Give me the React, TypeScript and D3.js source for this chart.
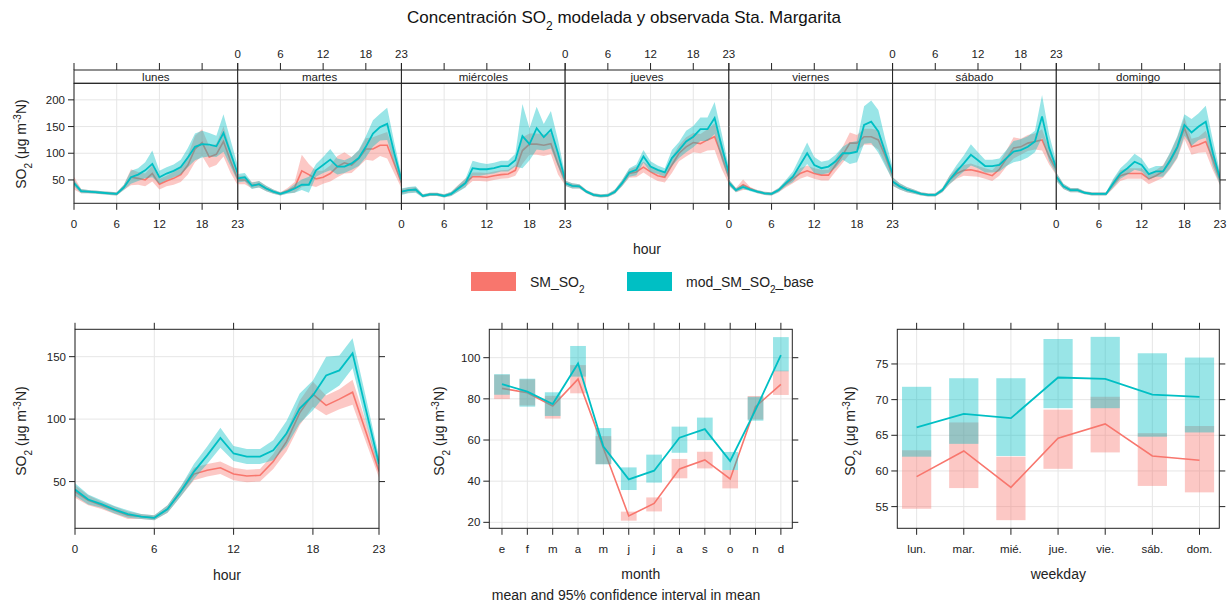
import React from "react";
import * as d3 from "d3";

const RED = "#F8766D";
const TEAL = "#00BFC4";
const FONT = "'Liberation Sans', Arial, Helvetica, sans-serif";

// ---------- data ----------
const hours = [0, 1, 2, 3, 4, 5, 6, 7, 8, 9, 10, 11, 12, 13, 14, 15, 16, 17, 18, 19, 20, 21, 22, 23];
const hourTicks = [0, 6, 12, 18, 23];
const dayNames = ["lunes", "martes", "miércoles", "jueves", "viernes", "sábado", "domingo"];

const modLunes = [44, 29, 28, 27, 26, 25, 24, 36, 55, 60, 68, 80, 55, 62, 67, 74, 92, 112, 117, 116, 113, 138, 100, 62];
const obsLunes = [44, 29, 28, 27, 26, 25, 24, 36, 55, 53, 50, 62, 42, 48, 53, 60, 78, 108, 120, 93, 98, 122, 85, 52];
const modLunesCI = [6, 4, 3, 3, 3, 3, 3, 5, 12, 12, 15, 25, 12, 12, 12, 14, 18, 25, 25, 22, 20, 35, 25, 15];
const obsLunesCI = [12, 4, 3, 3, 3, 3, 3, 5, 15, 12, 12, 15, 10, 10, 12, 14, 18, 25, 25, 20, 20, 28, 22, 12];

const modMartes = [53, 55, 39, 42, 34, 28, 24, 28, 34, 41, 41, 68, 78, 88, 75, 75, 81, 91, 112, 137, 149, 155, 100, 50];
const obsMartes = [50, 50, 40, 42, 34, 28, 24, 30, 36, 67, 60, 52, 55, 62, 75, 82, 78, 90, 108, 108, 115, 115, 80, 45];
const modMartesCI = [8, 8, 6, 6, 5, 4, 3, 4, 8, 10, 15, 12, 15, 20, 15, 12, 12, 15, 20, 25, 25, 30, 20, 10];
const obsMartesCI = [8, 8, 6, 6, 5, 4, 3, 5, 10, 30, 20, 15, 12, 15, 20, 20, 15, 15, 20, 22, 20, 25, 18, 10];

const modMiercoles = [28, 31, 32, 20, 23, 23, 20, 24, 34, 44, 72, 70, 70, 72, 76, 76, 87, 132, 117, 147, 130, 144, 100, 50];
const obsMiercoles = [28, 31, 32, 20, 23, 23, 20, 24, 35, 45, 56, 56, 55, 58, 60, 61, 68, 105, 117, 117, 115, 118, 80, 48];
const modMiercolesCI = [6, 6, 6, 3, 3, 3, 3, 4, 6, 8, 14, 12, 10, 10, 10, 10, 12, 60, 30, 40, 25, 35, 25, 10];
const obsMiercolesCI = [5, 5, 5, 3, 3, 3, 3, 4, 6, 8, 8, 8, 8, 8, 8, 8, 10, 25, 20, 20, 20, 20, 20, 8];

const modJueves = [44, 39, 38, 28, 22, 20, 21, 28, 44, 64, 69, 94, 75, 69, 64, 91, 106, 122, 131, 145, 145, 166, 112, 62];
const obsJueves = [44, 39, 38, 28, 22, 20, 21, 28, 44, 62, 65, 74, 65, 58, 55, 78, 100, 112, 120, 118, 125, 131, 95, 55];
const modJuevesCI = [5, 5, 4, 3, 3, 3, 3, 4, 6, 8, 10, 12, 10, 8, 8, 15, 15, 20, 20, 22, 22, 30, 25, 12];
const obsJuevesCI = [5, 5, 4, 3, 3, 3, 3, 4, 6, 8, 10, 10, 10, 10, 10, 15, 15, 18, 18, 18, 20, 25, 25, 12];

const modViernes = [45, 31, 37, 32, 28, 25, 24, 31, 44, 56, 78, 100, 78, 72, 75, 85, 100, 100, 103, 153, 159, 141, 100, 62];
const obsViernes = [45, 31, 41, 34, 28, 25, 24, 31, 42, 52, 62, 67, 62, 59, 59, 78, 97, 119, 119, 131, 131, 125, 94, 58];
const modViernesCI = [6, 4, 4, 3, 3, 3, 3, 4, 6, 10, 15, 20, 15, 12, 12, 12, 12, 20, 20, 35, 40, 40, 25, 12];
const obsViernesCI = [6, 4, 10, 3, 3, 3, 3, 4, 6, 8, 10, 10, 10, 10, 10, 12, 15, 20, 15, 15, 15, 18, 15, 10];

const modSabado = [47, 38, 32, 28, 24, 22, 22, 31, 50, 66, 81, 97, 87, 76, 76, 78, 91, 103, 106, 112, 122, 169, 110, 72];
const obsSabado = [47, 38, 32, 28, 24, 22, 22, 31, 50, 62, 68, 69, 66, 62, 58, 70, 90, 110, 112, 119, 122, 125, 94, 69];
const modSabadoCI = [8, 6, 5, 4, 3, 3, 3, 4, 8, 12, 15, 20, 15, 12, 12, 12, 15, 20, 20, 20, 20, 40, 25, 12];
const obsSabadoCI = [8, 6, 5, 4, 3, 3, 3, 4, 8, 10, 10, 12, 10, 10, 10, 12, 15, 20, 15, 15, 15, 20, 15, 10];

const modDomingo = [56, 38, 31, 31, 26, 24, 24, 24, 44, 62, 72, 84, 78, 61, 66, 66, 87, 112, 153, 139, 150, 159, 100, 53];
const obsDomingo = [56, 38, 31, 31, 26, 24, 24, 24, 42, 58, 62, 62, 62, 52, 58, 66, 85, 110, 147, 112, 116, 122, 88, 50];
const modDomingoCI = [8, 5, 4, 4, 3, 3, 3, 3, 8, 10, 12, 15, 12, 10, 10, 10, 15, 20, 20, 25, 25, 30, 25, 12];
const obsDomingoCI = [8, 5, 4, 4, 3, 3, 3, 3, 8, 10, 10, 10, 10, 10, 10, 12, 15, 20, 20, 15, 15, 20, 20, 10];

const hourMod = [43.6, 35.6, 32, 27.5, 24, 22, 21, 28, 42, 58, 71, 85, 72.5, 70, 70, 75, 88.5, 108.5, 119, 135, 139, 152.7, 108, 64];
const hourObs = [42, 35, 31, 27, 23, 22, 21, 28, 42, 56, 59, 61, 56, 54.5, 55, 66, 82, 105, 120, 111, 116, 121.5, 90, 58];
const hourModCI = [5, 4, 3, 3, 3, 2, 2, 3, 4, 6, 7, 8, 6, 6, 6, 8, 10, 12, 12, 15, 12, 12, 10, 6];
const hourObsCI = [5, 4, 3, 3, 3, 2, 2, 3, 4, 5, 5, 5, 5, 5, 5, 6, 8, 10, 10, 8, 8, 10, 8, 5];

const monthLabels = ["e", "f", "m", "a", "m", "j", "j", "a", "s", "o", "n", "d"];
const monthMod = [87.2, 83.5, 77.5, 97.2, 56.8, 40.9, 45.1, 61.1, 65.3, 49.8, 74.6, 101.3];
const monthModLo = [82, 76.2, 71.7, 90.8, 48.2, 35.7, 39.3, 53.8, 60, 45.4, 69.4, 93.4];
const monthModHi = [92, 89.8, 83.2, 105.7, 65.8, 46.7, 52.9, 66.5, 70.9, 54.2, 81, 110];
const monthObs = [85.1, 83, 76.5, 89.6, 56, 23.1, 29.2, 45.9, 50.3, 41.1, 76.2, 87];
const monthObsLo = [79.9, 76.8, 70.4, 82.7, 48.3, 20.8, 25.3, 41.4, 46.2, 36.5, 70, 81.9];
const monthObsHi = [91.7, 89.5, 81.5, 96.4, 61.9, 25.2, 32.1, 50.8, 54.3, 45.4, 81.4, 93.7];

const wdLabels = ["lun.", "mar.", "mié.", "jue.", "vie.", "sáb.", "dom."];
const wdMod = [66.1, 68, 67.4, 73.1, 72.9, 70.7, 70.4];
const wdModLo = [62, 63.8, 62.1, 68.8, 68.8, 64.8, 65.4];
const wdModHi = [71.8, 73, 73, 78.5, 78.8, 76.5, 75.9];
const wdObs = [59.2, 62.8, 57.7, 64.6, 66.6, 62.1, 61.5];
const wdObsLo = [54.7, 57.6, 53.1, 60.3, 62.6, 57.9, 57];
const wdObsHi = [62.9, 66.8, 62, 68.6, 70.4, 65.3, 66.3];

const topY = [50, 100, 150, 200];
const hourY = [50, 100, 150];
const monthY = [20, 40, 60, 80, 100];
const wdY = [55, 60, 65, 70, 75];

const dayMod = [modLunes, modMartes, modMiercoles, modJueves, modViernes, modSabado, modDomingo];
const dayObs = [obsLunes, obsMartes, obsMiercoles, obsJueves, obsViernes, obsSabado, obsDomingo];
const dayModCI = [modLunesCI, modMartesCI, modMiercolesCI, modJuevesCI, modViernesCI, modSabadoCI, modDomingoCI];
const dayObsCI = [obsLunesCI, obsMartesCI, obsMiercolesCI, obsJuevesCI, obsViernesCI, obsSabadoCI, obsDomingoCI];

// ---------- styling ----------
const GRID = "#e6e6e6";
const BORDER = "#222";
const TICK = 11.5;
const TITLE = 14;
const ALPHA = 0.4;

function YLabel({ x, y }: { x: number; y: number }) {
  return (
    <text transform={`translate(${x},${y}) rotate(-90)`} textAnchor="middle" fontSize={TITLE} fill="#222">
      SO<tspan baselineShift="sub" fontSize={10}>2</tspan> (μg m<tspan baselineShift="super" fontSize={10}>-3</tspan>N)
    </text>
  );
}

function bandPath(xs: (i: number) => number, y: d3.ScaleLinear<number, number>, m: number[], hw: number[]) {
  return d3
    .area<number>()
    .x((_, i) => xs(i))
    .y0((v, i) => y(v - hw[i]))
    .y1((v, i) => y(v + hw[i]))(m) as string;
}
function linePath(xs: (i: number) => number, y: d3.ScaleLinear<number, number>, m: number[]) {
  return d3
    .line<number>()
    .x((_, i) => xs(i))
    .y((v) => y(v))(m) as string;
}

function TopPanels() {
  const L = 74, R = 1220, stripTop = 70, pTop = 83.3, pBot = 203.3;
  const pw = (R - L) / 7;
  const y = d3.scaleLinear().domain([6.25, 231]).range([pBot, pTop]);
  return (
    <g>
      {dayNames.map((name, d) => {
        const x0 = L + d * pw;
        const x = d3.scaleLinear().domain([0, 23]).range([x0, x0 + pw]);
        const xs = (i: number) => x(hours[i]);
        const cid = `clipTop${d}`;
        return (
          <g key={name}>
            <clipPath id={cid}>
              <rect x={x0} y={pTop} width={pw} height={pBot - pTop} />
            </clipPath>
            {hourTicks.map((t) => (
              <line key={"gv" + t} x1={x(t)} x2={x(t)} y1={pTop} y2={pBot} stroke={GRID} />
            ))}
            {topY.map((t) => (
              <line key={"gh" + t} x1={x0} x2={x0 + pw} y1={y(t)} y2={y(t)} stroke={GRID} />
            ))}
            <g clipPath={`url(#${cid})`}>
              <path d={bandPath(xs, y, dayObs[d], dayObsCI[d])} fill={RED} fillOpacity={ALPHA} />
              <path d={linePath(xs, y, dayObs[d])} fill="none" stroke={RED} strokeWidth={1.6} />
              <path d={bandPath(xs, y, dayMod[d], dayModCI[d])} fill={TEAL} fillOpacity={ALPHA} />
              <path d={linePath(xs, y, dayMod[d])} fill="none" stroke={TEAL} strokeWidth={1.8} />
            </g>
            <rect x={x0} y={stripTop} width={pw} height={pTop - stripTop} fill="white" stroke={BORDER} />
            <text x={x0 + pw / 2} y={81} textAnchor="middle" fontSize={11.5} fill="#222">{name}</text>
            <rect x={x0} y={pTop} width={pw} height={pBot - pTop} fill="none" stroke={BORDER} />
            {hourTicks.map((t) => (
              <g key={"tk" + t}>
                <line x1={x(t)} x2={x(t)} y1={63} y2={stripTop} stroke={BORDER} />
                <line x1={x(t)} x2={x(t)} y1={pBot} y2={pBot + 6.5} stroke={BORDER} />
                {d % 2 === 1 ? (
                  <text x={x(t)} y={57.5} textAnchor="middle" fontSize={TICK} fill="#222">{t}</text>
                ) : (
                  <text x={x(t)} y={227.5} textAnchor="middle" fontSize={TICK} fill="#222">{t}</text>
                )}
              </g>
            ))}
          </g>
        );
      })}
      {topY.map((t) => (
        <g key={"yt" + t}>
          <line x1={L - 6} x2={L} y1={y(t)} y2={y(t)} stroke={BORDER} />
          <line x1={R} x2={R + 6} y1={y(t)} y2={y(t)} stroke={BORDER} />
          <text x={L - 9} y={y(t) + 4} textAnchor="end" fontSize={TICK} fill="#222">{t}</text>
        </g>
      ))}
      <YLabel x={26} y={144} />
      <text x={647} y={254} textAnchor="middle" fontSize={TITLE} fill="#222">hour</text>
    </g>
  );
}

function Frame({ L, R, T, B, xt, yt, x, y, xLabels }: any) {
  return (
    <g>
      <rect x={L} y={T} width={R - L} height={B - T} fill="none" stroke={BORDER} />
      {xt.map((t: number, i: number) => (
        <g key={"xt" + i}>
          <line x1={x(t)} x2={x(t)} y1={T - 6.5} y2={T} stroke={BORDER} />
          <line x1={x(t)} x2={x(t)} y1={B} y2={B + 6.5} stroke={BORDER} />
          <text x={x(t)} y={552.5} textAnchor="middle" fontSize={TICK} fill="#222">{xLabels ? xLabels[i] : t}</text>
        </g>
      ))}
      {yt.map((t: number) => (
        <g key={"yt" + t}>
          <line x1={L - 6} x2={L} y1={y(t)} y2={y(t)} stroke={BORDER} />
          <line x1={R} x2={R + 6} y1={y(t)} y2={y(t)} stroke={BORDER} />
          <text x={L - 9} y={y(t) + 4} textAnchor="end" fontSize={TICK} fill="#222">{t}</text>
        </g>
      ))}
    </g>
  );
}

function HourPanel() {
  const L = 75, R = 379, T = 329.3, B = 528.3;
  const x = d3.scaleLinear().domain([0, 23]).range([L, R]);
  const y = d3.scaleLinear().domain([12.6, 171.9]).range([B, T]);
  const xs = (i: number) => x(hours[i]);
  return (
    <g>
      <clipPath id="clipHour"><rect x={L} y={T} width={R - L} height={B - T} /></clipPath>
      {hourTicks.map((t) => <line key={"gv" + t} x1={x(t)} x2={x(t)} y1={T} y2={B} stroke={GRID} />)}
      {hourY.map((t) => <line key={"gh" + t} x1={L} x2={R} y1={y(t)} y2={y(t)} stroke={GRID} />)}
      <g clipPath="url(#clipHour)">
        <path d={bandPath(xs, y, hourObs, hourObsCI)} fill={RED} fillOpacity={ALPHA} />
        <path d={linePath(xs, y, hourObs)} fill="none" stroke={RED} strokeWidth={1.6} />
        <path d={bandPath(xs, y, hourMod, hourModCI)} fill={TEAL} fillOpacity={ALPHA} />
        <path d={linePath(xs, y, hourMod)} fill="none" stroke={TEAL} strokeWidth={1.8} />
      </g>
      <Frame L={L} R={R} T={T} B={B} xt={hourTicks} yt={hourY} x={x} y={y} />
      <YLabel x={26} y={431} />
      <text x={227} y={580} textAnchor="middle" fontSize={TITLE} fill="#222">hour</text>
    </g>
  );
}

function BoxPanel({ L, R, T, B, dom, ydom, labels, yt, mod, modLo, modHi, obs, obsLo, obsHi, xTitle, yLabX, id }: any) {
  const x = d3.scaleLinear().domain(dom).range([L, R]);
  const y = d3.scaleLinear().domain(ydom).range([B, T]);
  const idx = labels.map((_: string, i: number) => i + 1);
  const bw = (x(2) - x(1)) * 0.62;
  const xs = (i: number) => x(idx[i]);
  return (
    <g>
      <clipPath id={id}><rect x={L} y={T} width={R - L} height={B - T} /></clipPath>
      {idx.map((t: number) => <line key={"gv" + t} x1={x(t)} x2={x(t)} y1={T} y2={B} stroke={GRID} />)}
      {yt.map((t: number) => <line key={"gh" + t} x1={L} x2={R} y1={y(t)} y2={y(t)} stroke={GRID} />)}
      <g clipPath={`url(#${id})`}>
        {obs.map((_: number, i: number) => (
          <rect key={"ro" + i} x={xs(i) - bw / 2} width={bw} y={y(obsHi[i])} height={y(obsLo[i]) - y(obsHi[i])} fill={RED} fillOpacity={ALPHA} />
        ))}
        <path d={linePath(xs, y, obs)} fill="none" stroke={RED} strokeWidth={1.6} />
        {mod.map((_: number, i: number) => (
          <rect key={"rm" + i} x={xs(i) - bw / 2} width={bw} y={y(modHi[i])} height={y(modLo[i]) - y(modHi[i])} fill={TEAL} fillOpacity={ALPHA} />
        ))}
        <path d={linePath(xs, y, mod)} fill="none" stroke={TEAL} strokeWidth={1.8} />
      </g>
      <Frame L={L} R={R} T={T} B={B} xt={idx} yt={yt} x={x} y={y} xLabels={labels} />
      <YLabel x={yLabX} y={431} />
      <text x={(L + R) / 2} y={579} textAnchor="middle" fontSize={TITLE} fill="#222">{xTitle}</text>
    </g>
  );
}

export default function App() {
  return (
    <svg width={1230} height={605} viewBox="0 0 1230 605" style={{ position: "absolute", left: 0, top: 0, background: "white", fontFamily: FONT }}>
      <rect width={1230} height={605} fill="white" />
      <text x={624} y={23} textAnchor="middle" fontSize={17} fill="#111">
        Concentración SO<tspan baselineShift="sub" fontSize={12}>2</tspan> modelada y observada Sta. Margarita
      </text>
      <TopPanels />
      {/* legend */}
      <rect x={471} y={272} width={45} height={19} fill={RED} />
      <text x={530} y={287} fontSize={14} fill="#222">SM_SO<tspan baselineShift="sub" fontSize={10}>2</tspan></text>
      <rect x={627} y={272} width={45} height={19} fill={TEAL} />
      <text x={686} y={287} fontSize={14} fill="#222">mod_SM_SO<tspan baselineShift="sub" fontSize={10}>2</tspan>_base</text>

      <HourPanel />
      <BoxPanel id="clipMonth" L={489.3} R={792.3} T={329.3} B={528.3} dom={[0.5, 12.45]} ydom={[17.1, 113.8]}
        labels={monthLabels} yt={monthY} mod={monthMod} modLo={monthModLo} modHi={monthModHi}
        obs={monthObs} obsLo={monthObsLo} obsHi={monthObsHi} xTitle="month" yLabX={444} />
      <text x={626} y={600} textAnchor="middle" fontSize={14} fill="#222">mean and 95% confidence interval in mean</text>
      <BoxPanel id="clipWd" L={897.3} R={1219.3} T={329.3} B={528.3} dom={[0.59, 7.42]} ydom={[51.96, 79.86]}
        labels={wdLabels} yt={wdY} mod={wdMod} modLo={wdModLo} modHi={wdModHi}
        obs={wdObs} obsLo={wdObsLo} obsHi={wdObsHi} xTitle="weekday" yLabX={855} />
    </svg>
  );
}
